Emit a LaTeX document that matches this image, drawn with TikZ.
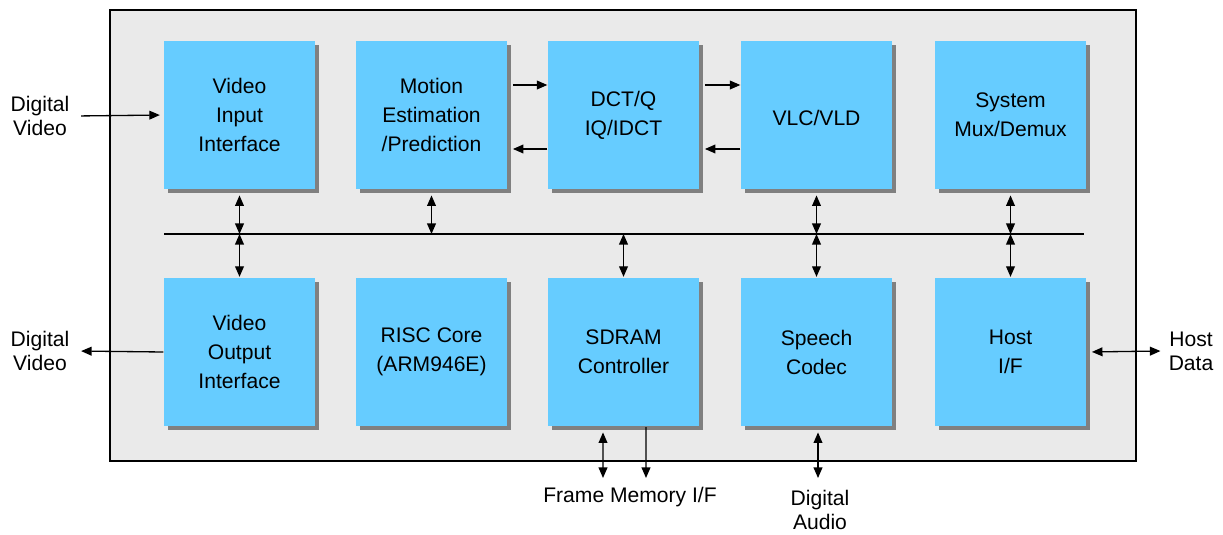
\documentclass[tikz,border=0pt]{standalone}
\usepackage{fontspec}
\setmainfont{Liberation Sans}
\usetikzlibrary{arrows.meta,shadows}
\definecolor{boxblue}{RGB}{102,204,255}
\definecolor{panel}{RGB}{234,234,234}

\begin{document}
\begin{tikzpicture}[x=0.02cm, y=-0.02cm, line width=0.75pt,
    >={Triangle[length=6pt,width=5pt]},
    blk/.style={fill=boxblue, minimum width=3.02cm, minimum height=2.98cm,
      align=center, font=\fontsize{12}{16.5}\selectfont,
      execute at begin node={\rule{0pt}{12pt}},
      drop shadow={shadow xshift=0.08cm, shadow yshift=-0.08cm,
        fill=black!50, opacity=1}},
    lbl/.style={align=center, font=\fontsize{12}{13.5}\selectfont}]
  \useasboundingbox (0,0) rectangle (1223,534);
  \draw[fill=panel, line width=0.8pt] (110,10) rectangle (1136,461);

  % top row
  \node[blk] (vin) at (239.5,115) {Video\\Input\\Interface};
  \node[blk] (me) at (431.5,115) {Motion\\Estimation\\/Prediction};
  \node[blk] (dct) at (623.5,115) {DCT/Q\\IQ/IDCT};
  \node[blk] (vlc) at (816.5,115) {VLC/VLD};
  \node[blk] (mux) at (1010.5,115) {System\\Mux/Demux};
  % bottom row
  \node[blk] (vout) at (239.5,352) {Video\\Output\\Interface};
  \node[blk] (risc) at (431.5,352) {RISC Core\\(ARM946E)};
  \node[blk] (sdram) at (623.5,352) {SDRAM\\Controller};
  \node[blk] (speech) at (816.5,352) {Speech\\Codec};
  \node[blk] (host) at (1010.5,352) {Host\\I/F};

  % bus
  \coordinate (busL) at (164,234);
  \coordinate (busR) at (1084,234);
  \draw[line width=1.6pt] (busL) -- (busR);
  \draw[<->, shorten <=3pt] (vin.south) -- (vin.south |- busL);
  \draw[<->, shorten <=3pt] (me.south) -- (me.south |- busL);
  \draw[<->, shorten <=3pt] (vlc.south) -- (vlc.south |- busL);
  \draw[<->, shorten <=3pt] (mux.south) -- (mux.south |- busL);
  \draw[<->] (vout.north |- busL) -- (vout.north);
  \draw[<->] (sdram.north |- busL) -- (sdram.north);
  \draw[<->] (speech.north |- busL) -- (speech.north);
  \draw[<->] (host.north |- busL) -- (host.north);

  % data path
  \draw[->, shorten <=3pt] ([yshift=0.6cm]me.east) -- ([yshift=0.6cm]dct.west);
  \draw[->, shorten >=3pt] ([yshift=-0.68cm]dct.west) -- ([yshift=-0.68cm]me.east);
  \draw[->, shorten <=3pt] ([yshift=0.6cm]dct.east) -- ([yshift=0.6cm]vlc.west);
  \draw[->, shorten >=3pt] ([yshift=-0.68cm]vlc.west) -- ([yshift=-0.68cm]dct.east);

  % outside
  \node[lbl] (dvin) at (40,116) {Digital\\Video};
  \node[lbl] (dvout) at (40,351) {Digital\\Video};
  \node[lbl] (hdata) at (1191,351) {Host\\Data};
  \node[lbl] (fmem) at (630,497) {Frame Memory I/F};
  \node[lbl] (daud) at (820,510) {Digital\\Audio};
  \coordinate (fm1) at (603,478);
  \coordinate (fm2) at (646,478);
  \coordinate (da) at (818,478);
  \draw[->, shorten <=3pt, shorten >=2pt] (dvin.east) -- (vin.west);
  \draw[->, shorten >=3pt] (vout.west) -- (dvout.east);
  \draw[<->, shorten <=3pt, shorten >=1pt] (host.east) -- (hdata.west);
  \draw[<->, shorten <=3pt] ([xshift=-0.41cm]sdram.south) -- (fm1);
  \draw[->] ([xshift=0.45cm]sdram.south) -- (fm2);
  \draw[<->, shorten <=3pt] (speech.south -| da) -- (da);
\end{tikzpicture}
\end{document}
